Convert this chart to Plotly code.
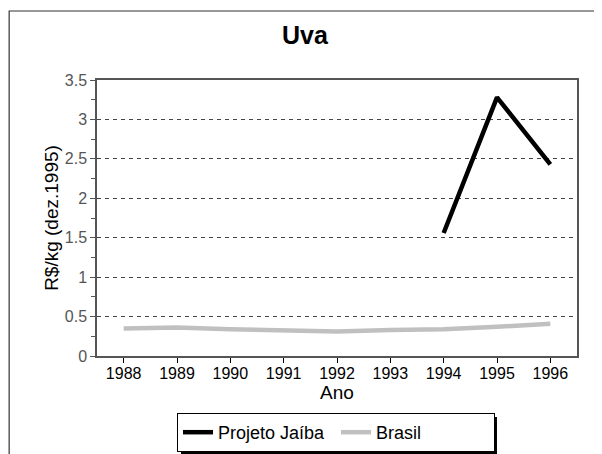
import plotly.graph_objects as go

years = [1988, 1989, 1990, 1991, 1992, 1993, 1994, 1995, 1996]
jaiba_years = [1994, 1995, 1996]
jaiba_values = [1.56, 3.28, 2.43]
brasil_values = [0.35, 0.36, 0.34, 0.33, 0.31, 0.33, 0.34, 0.37, 0.41]
y_ticks = [0, 0.5, 1, 1.5, 2, 2.5, 3, 3.5]
y_labels = ["0", "0.5", "1", "1.5", "2", "2.5", "3", "3.5"]

FONT = "Liberation Sans"

fig = go.Figure()
fig.add_trace(go.Scatter(x=jaiba_years, y=jaiba_values, mode="lines",
                         name="Projeto Jaíba",
                         line=dict(color="#000000", width=4.5)))
fig.add_trace(go.Scatter(x=years, y=brasil_values, mode="lines",
                         name="Brasil",
                         line=dict(color="#c0c0c0", width=4.5)))

fig.update_layout(
    width=594, height=446,
    margin=dict(l=89, r=25, t=72, b=98, autoexpand=False),
    paper_bgcolor="white", plot_bgcolor="white",
    font=dict(family=FONT, color="#000000"),
    title=dict(text="<b>Uva</b>", x=0.5, xanchor="center", y=0.94, yanchor="middle",
               font=dict(size=25, family=FONT, color="#000000")),
    showlegend=True,
    legend=dict(orientation="h", x=0.1667, y=-0.2065, xanchor="left", yanchor="top",
                bordercolor="#000000", borderwidth=1, bgcolor="white",
                font=dict(size=18, family=FONT, color="#000000"),
                itemwidth=30, tracegroupgap=0,
                entrywidth=113, entrywidthmode="pixels"),
)

fig.update_xaxes(
    range=[1987.5, 1996.5], automargin=False,
    tickmode="array", tickvals=years, ticktext=[str(y) for y in years],
    ticks="outside", ticklen=5, tickcolor="#000000", ticklabelstandoff=-3,
    showline=True, linecolor="#555555", linewidth=1.5, mirror=True,
    showgrid=False, zeroline=False,
    tickfont=dict(size=16, family=FONT, color="#000000"),
    title=dict(text="Ano", font=dict(size=19, family=FONT, color="#000000"), standoff=0),
)
fig.update_yaxes(
    range=[0, 3.5], automargin=False,
    tickmode="array", tickvals=y_ticks, ticktext=y_labels,
    ticks="outside", ticklen=5, tickcolor="#555555",
    minor=dict(ticks="outside", ticklen=4, dtick=0.25, tickcolor="#555555", showgrid=False),
    showline=True, linecolor="#555555", linewidth=1.5, mirror=True,
    showgrid=True, gridcolor="#444444", griddash="4px,4px", gridwidth=1,
    zeroline=False,
    tickfont=dict(size=16, family=FONT, color="#555555"),
    title=dict(text="R$/kg (dez.1995)", font=dict(size=19, family=FONT, color="#000000"), standoff=1),
)

# outer chart-area frame
fig.add_shape(type="rect", xref="paper", yref="paper",
              x0=-0.183, x1=1.2, y0=-0.5, y1=1.25,
              line=dict(color="#333333", width=1.2), fillcolor="rgba(0,0,0,0)", layer="below")
# legend shadow
fig.add_shape(type="rect", xref="paper", yref="paper",
              x0=0.175, x1=0.8333, y0=-0.355, y1=-0.221,
              line=dict(width=0), fillcolor="#000000", layer="below")

fig.write_html("out.html")
